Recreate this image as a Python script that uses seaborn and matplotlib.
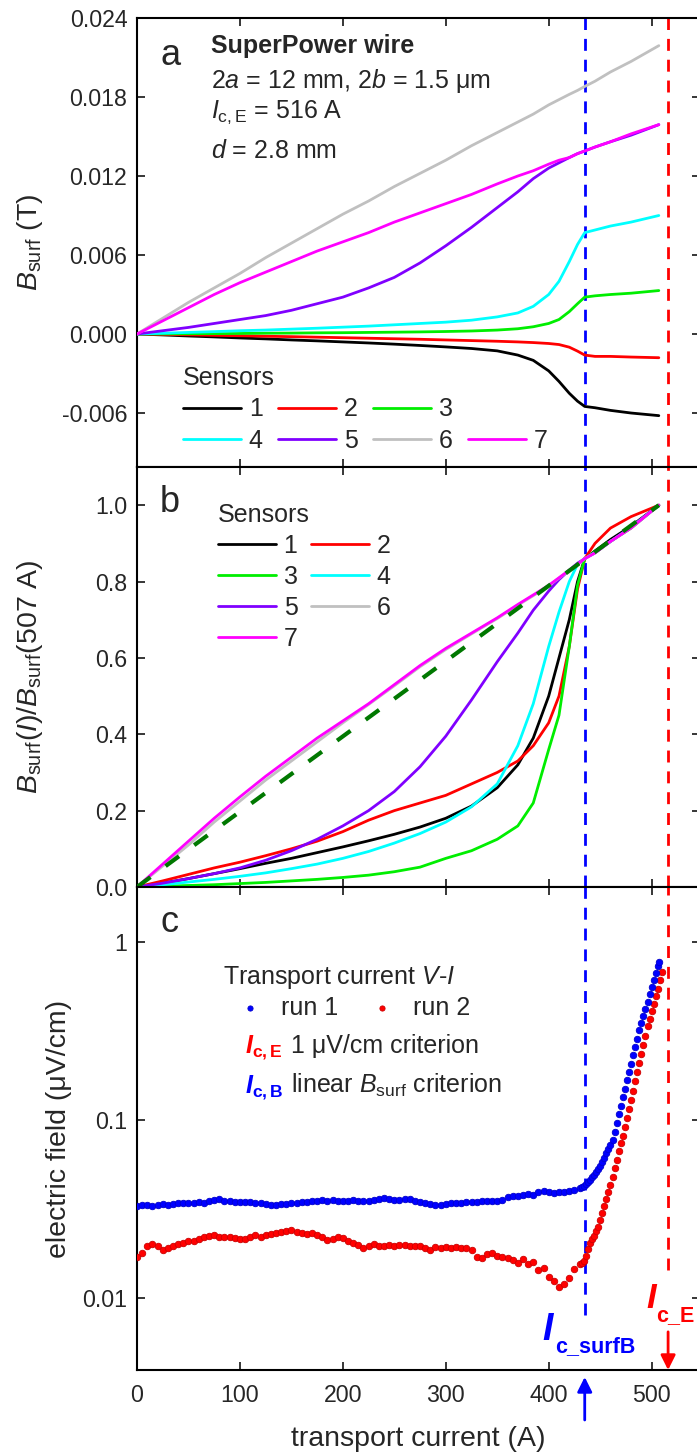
import numpy as np
import matplotlib
matplotlib.use('Agg')
import matplotlib.pyplot as plt
from matplotlib.lines import Line2D
import seaborn as sns

# ------------------------------------------------------------
# данные
# ------------------------------------------------------------
current = [0, 25, 50, 75, 100, 125, 150, 175, 200, 225, 250, 275, 300, 325,
           350, 370, 385, 400, 410, 420, 428, 435, 445, 460, 480, 507]

# панель a: B_surf (T) для датчиков 1..7
bsurf_1 = [0, -0.00007, -0.00015, -0.00022, -0.0003, -0.00037, -0.00045, -0.00052, -0.0006, -0.00068,
           -0.00077, -0.00087, -0.00098, -0.0011, -0.00128, -0.0016, -0.002, -0.0028, -0.0036, -0.0045,
           -0.0051, -0.0055, -0.0056, -0.0058, -0.006, -0.0062]
bsurf_2 = [0, -0.00003, -0.00006, -0.0001, -0.00013, -0.00017, -0.0002, -0.00024, -0.00028, -0.00032,
           -0.00036, -0.0004, -0.00045, -0.0005, -0.00055, -0.0006, -0.00065, -0.00072, -0.0008, -0.001,
           -0.0013, -0.0016, -0.0017, -0.0017, -0.00175, -0.0018]
bsurf_3 = [0, 0.00001, 0.00002, 0.00003, 0.00004, 0.00006, 0.00007, 0.00009, 0.0001, 0.00012,
           0.00014, 0.00016, 0.00019, 0.00023, 0.0003, 0.0004, 0.00055, 0.0008, 0.0011, 0.0017,
           0.0023, 0.0028, 0.0029, 0.003, 0.0031, 0.0033]
bsurf_4 = [0, 0.00006, 0.00012, 0.00018, 0.00025, 0.0003, 0.00037, 0.00044, 0.00052, 0.0006,
           0.0007, 0.0008, 0.0009, 0.00105, 0.0013, 0.0016, 0.0021, 0.003, 0.004, 0.0055,
           0.0068, 0.0077, 0.0079, 0.0082, 0.0085, 0.009]
bsurf_5 = [0, 0.00025, 0.0005, 0.0008, 0.0011, 0.0014, 0.0018, 0.0023, 0.0028, 0.0035,
           0.0043, 0.0054, 0.0067, 0.0081, 0.0096, 0.0108, 0.0118, 0.0126, 0.013, 0.0134,
           0.0137, 0.0139, 0.0142, 0.0146, 0.0151, 0.0159]
bsurf_6 = [0, 0.0012, 0.0024, 0.0035, 0.0046, 0.0058, 0.0069, 0.008, 0.0091, 0.0101,
           0.0112, 0.0122, 0.0132, 0.0143, 0.0153, 0.0161, 0.0167, 0.0174, 0.0178, 0.0182,
           0.0185, 0.0188, 0.0192, 0.0199, 0.0207, 0.0219]
bsurf_7 = [0, 0.001, 0.002, 0.003, 0.0039, 0.0047, 0.0055, 0.0063, 0.007, 0.0077,
           0.0085, 0.0092, 0.0099, 0.0106, 0.0114, 0.012, 0.0124, 0.0129, 0.0132, 0.0134,
           0.0137, 0.0139, 0.0142, 0.0146, 0.0152, 0.0159]

# панель b: B_surf(I)/B_surf(507 A)
norm_1 = [0, 0.01, 0.022, 0.035, 0.048, 0.062, 0.075, 0.09, 0.105, 0.121,
          0.138, 0.157, 0.18, 0.212, 0.26, 0.32, 0.39, 0.5, 0.6, 0.7,
          0.8, 0.86, 0.88, 0.91, 0.945, 1.0]
norm_2 = [0, 0.016, 0.033, 0.05, 0.065, 0.082, 0.1, 0.12, 0.145, 0.175,
          0.2, 0.22, 0.24, 0.27, 0.3, 0.33, 0.37, 0.43, 0.5, 0.63,
          0.78, 0.86, 0.9, 0.94, 0.97, 1.0]
norm_3 = [0, 0.002, 0.004, 0.006, 0.009, 0.012, 0.016, 0.02, 0.025, 0.031,
          0.04, 0.052, 0.075, 0.095, 0.125, 0.16, 0.22, 0.36, 0.45, 0.63,
          0.79, 0.86, 0.878, 0.905, 0.94, 1.0]
norm_4 = [0, 0.006, 0.013, 0.02, 0.028, 0.037, 0.048, 0.06, 0.075, 0.093,
          0.115, 0.14, 0.17, 0.21, 0.27, 0.37, 0.48, 0.63, 0.72, 0.8,
          0.845, 0.86, 0.876, 0.905, 0.942, 1.0]
norm_5 = [0, 0.01, 0.022, 0.035, 0.05, 0.07, 0.095, 0.125, 0.16, 0.2,
          0.25, 0.315, 0.395, 0.49, 0.59, 0.665, 0.725, 0.775, 0.805, 0.83,
          0.848, 0.86, 0.875, 0.905, 0.942, 1.0]
norm_6 = [0, 0.055, 0.11, 0.17, 0.225, 0.28, 0.33, 0.38, 0.43, 0.478,
          0.527, 0.577, 0.622, 0.663, 0.703, 0.738, 0.763, 0.789, 0.809, 0.829,
          0.845, 0.86, 0.875, 0.905, 0.94, 1.0]
norm_7 = [0, 0.06, 0.12, 0.18, 0.236, 0.29, 0.34, 0.39, 0.435, 0.48,
          0.53, 0.58, 0.625, 0.665, 0.705, 0.74, 0.765, 0.79, 0.81, 0.83,
          0.845, 0.86, 0.875, 0.905, 0.94, 1.0]
# линейный критерий
lin_current = [0, 507]
lin_norm = [0, 1.0]

# панель c: электрическое поле (мкВ/см): шаг 5 A до 430 A, затем 2 A
run1_current = list(range(0, 431, 5)) + list(range(432, 507, 2)) + [507]
run1_field = [0.0330, 0.0332, 0.0335, 0.0331, 0.0333, 0.0336, 0.0334, 0.0337, 0.0340, 0.0342,
              0.0341, 0.0343, 0.0346, 0.0344, 0.0350, 0.0354, 0.0358, 0.0352, 0.0349, 0.0347,
              0.0345, 0.0348, 0.0346, 0.0342, 0.0340, 0.0337, 0.0335, 0.0333, 0.0336, 0.0338,
              0.0340, 0.0343, 0.0345, 0.0348, 0.0350, 0.0352, 0.0354, 0.0351, 0.0355, 0.0353,
              0.0350, 0.0352, 0.0355, 0.0353, 0.0349, 0.0351, 0.0356, 0.0362, 0.0366, 0.0360,
              0.0355, 0.0357, 0.0361, 0.0358, 0.0352, 0.0348, 0.0343, 0.0338, 0.0335, 0.0334,
              0.0337, 0.0340, 0.0342, 0.0344, 0.0346, 0.0345, 0.0347, 0.0350, 0.0353, 0.0350,
              0.0349, 0.0355, 0.0370, 0.0372, 0.0374, 0.0378, 0.0382, 0.0380, 0.0393, 0.0400,
              0.0395, 0.0389, 0.0392, 0.0396, 0.0401, 0.0406, 0.0415,
              0.0421, 0.0427, 0.0436, 0.0448, 0.0460, 0.0477, 0.0494, 0.0512, 0.0530, 0.0550,
              0.0581, 0.0615, 0.0650, 0.0687, 0.0726, 0.0769, 0.0861, 0.0964, 0.1076, 0.1205,
              0.1349, 0.1503, 0.1675, 0.1866, 0.2075, 0.2312, 0.2576, 0.2871, 0.3199, 0.3508,
              0.3846, 0.4217, 0.4624, 0.5081, 0.5572, 0.6109, 0.6699, 0.7345, 0.7700]
run2_current = list(range(0, 431, 5)) + list(range(432, 511, 2))
run2_field = [0.0170, 0.0180, 0.0195, 0.0200, 0.0195, 0.0185, 0.0190, 0.0195, 0.0200, 0.0205,
              0.0210, 0.0210, 0.0215, 0.0220, 0.0222, 0.0225, 0.0220, 0.0220, 0.0220, 0.0218,
              0.0215, 0.0215, 0.0220, 0.0225, 0.0220, 0.0225, 0.0230, 0.0232, 0.0235, 0.0238,
              0.0240, 0.0235, 0.0233, 0.0228, 0.0232, 0.0225, 0.0220, 0.0212, 0.0215, 0.0220,
              0.0218, 0.0210, 0.0205, 0.0198, 0.0192, 0.0196, 0.0200, 0.0197, 0.0195, 0.0198,
              0.0196, 0.0198, 0.0199, 0.0197, 0.0196, 0.0195, 0.0190, 0.0187, 0.0193, 0.0192,
              0.0193, 0.0191, 0.0193, 0.0192, 0.0190, 0.0187, 0.0170, 0.0168, 0.0177, 0.0180,
              0.0173, 0.0170, 0.0168, 0.0163, 0.0158, 0.0165, 0.0155, 0.0160, 0.0143, 0.0148,
              0.0132, 0.0125, 0.0115, 0.0120, 0.0130, 0.0145, 0.0155,
              0.0158, 0.0162, 0.0172, 0.0188, 0.0205, 0.0214, 0.0224, 0.0237, 0.0250, 0.0274,
              0.0300, 0.0327, 0.0358, 0.0392, 0.0430, 0.0480, 0.0536, 0.0598, 0.0667, 0.0745,
              0.0812, 0.0914, 0.1028, 0.1157, 0.1302, 0.1465, 0.1648, 0.1854, 0.2085, 0.2346,
              0.2640, 0.2970, 0.3370, 0.3710, 0.4080, 0.4500, 0.4950, 0.5450, 0.6150, 0.6800]

ic_surfB = 435
ic_E = 516

sensors = ['1', '2', '3', '4', '5', '6', '7']
colors = ['#000000', '#FF0000', '#00EE00', '#00FFFF', '#8000FF', '#C0C0C0', '#FF00FF']
bsurf = [bsurf_1, bsurf_2, bsurf_3, bsurf_4, bsurf_5, bsurf_6, bsurf_7]
norms = [norm_1, norm_2, norm_3, norm_4, norm_5, norm_6, norm_7]

# ------------------------------------------------------------
# оформление
# ------------------------------------------------------------
sns.set_style('ticks')
plt.rcParams['font.family'] = ['Liberation Sans', 'DejaVu Sans']
plt.rcParams['mathtext.fontset'] = 'custom'
plt.rcParams['mathtext.rm'] = 'Liberation Sans'
plt.rcParams['mathtext.it'] = 'Liberation Sans:italic'
plt.rcParams['mathtext.bf'] = 'Liberation Sans:bold'
plt.rcParams['mathtext.bfit'] = 'Liberation Sans:italic:bold'
plt.rcParams['axes.unicode_minus'] = False

FS = 16.7      # подписи делений
FS_TXT = 18    # легенды и надписи
FS_LAB = 20.5  # подписи осей
W_PX, H_PX = 697, 1454
left = 137 / W_PX
width = (700 - 137) / W_PX
dash = (0, (4.3, 3.2))

fig = plt.figure(figsize=(W_PX / 100, H_PX / 100), dpi=100)
ax_a = fig.add_axes([left, 1 - 467 / H_PX, width, (467 - 18) / H_PX])
ax_b = fig.add_axes([left, 1 - 887 / H_PX, width, (887 - 467) / H_PX])
ax_c = fig.add_axes([left, 1 - 1370 / H_PX, width, (1370 - 887) / H_PX])

for ax in (ax_a, ax_b, ax_c):
    ax.set_xlim(0, 547)
    ax.set_xticks([0, 100, 200, 300, 400, 500])
    ax.tick_params(direction='in', length=6, width=1.1, top=True, right=True,
                   labelsize=FS, pad=7, color='black')
    ax.tick_params(axis='x', pad=10)
    for s in ax.spines.values():
        s.set_linewidth(1.5)
        s.set_color('black')
    ax.spines['right'].set_visible(False)

ax_a.tick_params(axis='x', labelbottom=False)
ax_b.tick_params(axis='x', labelbottom=False)

leg_kw = dict(title='Sensors', title_fontsize=FS_TXT, fontsize=FS_TXT, frameon=False,
              loc='upper left', borderpad=0, borderaxespad=0, handletextpad=0.32,
              alignment='left')

# --- панель a ---
for i in range(7):
    sns.lineplot(x=current, y=bsurf[i], ax=ax_a, color=colors[i], lw=2,
                 label=sensors[i], legend=False, zorder=3)
ax_a.axvline(ic_surfB, color='#0000FF', lw=2, ls=dash, zorder=1)
ax_a.axvline(ic_E, color='#FF0000', lw=2, ls=dash, zorder=1)
ax_a.set_ylim(-0.0101, 0.024)
ax_a.set_yticks([-0.006, 0.0, 0.006, 0.012, 0.018, 0.024])
ax_a.yaxis.set_major_formatter(matplotlib.ticker.FormatStrFormatter('%.3f'))
ax_a.set_ylabel(r'$B_{\rm surf}$ (T)', fontsize=FS_LAB)
ax_a.yaxis.set_label_coords(-0.163, 0.5)

ax_a.text(0.041, 0.895, 'a', transform=ax_a.transAxes, fontsize=26)
ax_a.text(0.132, 0.922, 'SuperPower wire', transform=ax_a.transAxes, fontsize=FS_TXT, weight='bold')
ax_a.text(0.132, 0.844, r'2$a$ = 12 mm, 2$b$ = 1.5 μm', transform=ax_a.transAxes, fontsize=FS_TXT)
ax_a.text(0.132, 0.777, r'$I_{\rm c,E}$ = 516 A', transform=ax_a.transAxes, fontsize=FS_TXT)
ax_a.text(0.132, 0.688, r'$d$ = 2.8 mm', transform=ax_a.transAxes, fontsize=FS_TXT)

lines_a = [l for l in ax_a.get_lines() if l.get_label() in sensors]
blank = Line2D([], [], color='none')
hand_a = [lines_a[0], lines_a[3], lines_a[1], lines_a[4], lines_a[2], lines_a[5], blank, lines_a[6]]
labs_a = ['1', '4', '2', '5', '3', '6', '', '7']
ax_a.legend(hand_a, labs_a, ncol=4, bbox_to_anchor=(0.082, 0.225),
            handlelength=2.3, columnspacing=0.62, labelspacing=0.3, **leg_kw)

# --- панель b ---
for i in range(7):
    sns.lineplot(x=current, y=norms[i], ax=ax_b, color=colors[i], lw=2,
                 label=sensors[i], legend=False, zorder=3)
sns.lineplot(x=lin_current, y=lin_norm, ax=ax_b, color='#007800', lw=3,
             legend=False, zorder=4, linestyle=(0, (4, 4.5)))
ax_b.axvline(ic_surfB, color='#0000FF', lw=2, ls=dash, zorder=1)
ax_b.axvline(ic_E, color='#FF0000', lw=2, ls=dash, zorder=1)
ax_b.set_ylim(0, 1.1)
ax_b.set_yticks([0.0, 0.2, 0.4, 0.6, 0.8, 1.0])
ax_b.yaxis.set_major_formatter(matplotlib.ticker.FormatStrFormatter('%.1f'))
ax_b.set_ylabel(r'$B_{\rm surf}$($I$)/$B_{\rm surf}$(507 A)', fontsize=FS_LAB)
ax_b.yaxis.set_label_coords(-0.163, 0.5)
ax_b.text(0.041, 0.893, 'b', transform=ax_b.transAxes, fontsize=26)

lines_b = [l for l in ax_b.get_lines() if l.get_label() in sensors]
order_b = [0, 2, 4, 6, 1, 3, 5]
ax_b.legend([lines_b[k] for k in order_b], [sensors[k] for k in order_b], ncol=2,
            bbox_to_anchor=(0.144, 0.914), handlelength=2.3, columnspacing=0.55,
            labelspacing=0.28, **leg_kw)

# --- панель c ---
sns.scatterplot(x=run1_current, y=run1_field, ax=ax_c, color='#0000FF', s=22,
                edgecolor='#0000CC', linewidth=0.6, label='run 1', legend=False, zorder=4)
sns.scatterplot(x=run2_current, y=run2_field, ax=ax_c, color='#FF0000', s=22,
                edgecolor='#CC0000', linewidth=0.6, label='run 2', legend=False, zorder=3)
ax_c.set_yscale('log')
ax_c.set_ylim(0.00394, 2.04)
ax_c.set_yticks([0.01, 0.1, 1])
ax_c.set_yticklabels(['0.01', '0.1', '1'])
ax_c.yaxis.set_minor_locator(matplotlib.ticker.NullLocator())
ax_c.axvline(ic_surfB, ymin=0.114, color='#0000FF', lw=2, ls=dash, zorder=1)
ax_c.axvline(ic_E, ymin=0.207, color='#FF0000', lw=2, ls=dash, zorder=1)
ax_c.set_ylabel('electric field (μV/cm)', fontsize=FS_LAB)
ax_c.yaxis.set_label_coords(-0.115, 0.5)
ax_c.set_xlabel('transport current (A)', fontsize=FS_LAB, labelpad=14)
ax_c.text(0.041, 0.907, 'c', transform=ax_c.transAxes, fontsize=26)

pts = ax_c.collections
ax_c.legend(pts[:2], ['run 1', 'run 2'], ncol=2, title=r'Transport current $V$-$I$',
            title_fontsize=FS_TXT, fontsize=FS_TXT, frameon=False, loc='upper left',
            bbox_to_anchor=(0.153, 0.841), borderpad=0, borderaxespad=0, handlelength=2.16,
            handletextpad=0.16, columnspacing=0.68, labelspacing=0.2,
            alignment='left', markerscale=0.8)
ax_c.text(0.192, 0.656, r'$\mathbfit{I}_{\mathbf{c,E}}$', transform=ax_c.transAxes,
          fontsize=FS_TXT, color='#FF0000')
ax_c.text(0.274, 0.656, '1 μV/cm criterion', transform=ax_c.transAxes, fontsize=FS_TXT)
ax_c.text(0.192, 0.573, r'$\mathbfit{I}_{\mathbf{c,B}}$', transform=ax_c.transAxes,
          fontsize=FS_TXT, color='#0000FF')
ax_c.text(0.274, 0.573, r'linear $B_{\rm surf}$ criterion', transform=ax_c.transAxes,
          fontsize=FS_TXT)

# подписи критических токов и стрелки
ax_c.text(0.719, 0.062, r'$\mathbfit{I}$', transform=ax_c.transAxes, fontsize=27, color='#0000FF')
ax_c.text(0.742, 0.037, 'c_surfB', transform=ax_c.transAxes, fontsize=15.5,
          color='#0000FF', weight='bold')
ax_c.text(0.904, 0.128, r'$\mathbfit{I}$', transform=ax_c.transAxes, fontsize=25, color='#FF0000')
ax_c.text(0.922, 0.102, 'c_E', transform=ax_c.transAxes, fontsize=15.5,
          color='#FF0000', weight='bold')
xt = ax_c.get_xaxis_transform()
ax_c.annotate('', xy=(ic_surfB, -0.0145), xytext=(ic_surfB, -0.1035), xycoords=xt,
              textcoords=xt, annotation_clip=False,
              arrowprops=dict(arrowstyle='-|>', color='#0000FF', lw=2, mutation_scale=22,
                              shrinkA=0, shrinkB=0))
ax_c.annotate('', xy=(ic_E, 0.0), xytext=(ic_E, 0.079), xycoords=xt,
              textcoords=xt, annotation_clip=False,
              arrowprops=dict(arrowstyle='-|>', color='#FF0000', lw=2, mutation_scale=22,
                              shrinkA=0, shrinkB=0))

fig.savefig('out.png', dpi=100)
